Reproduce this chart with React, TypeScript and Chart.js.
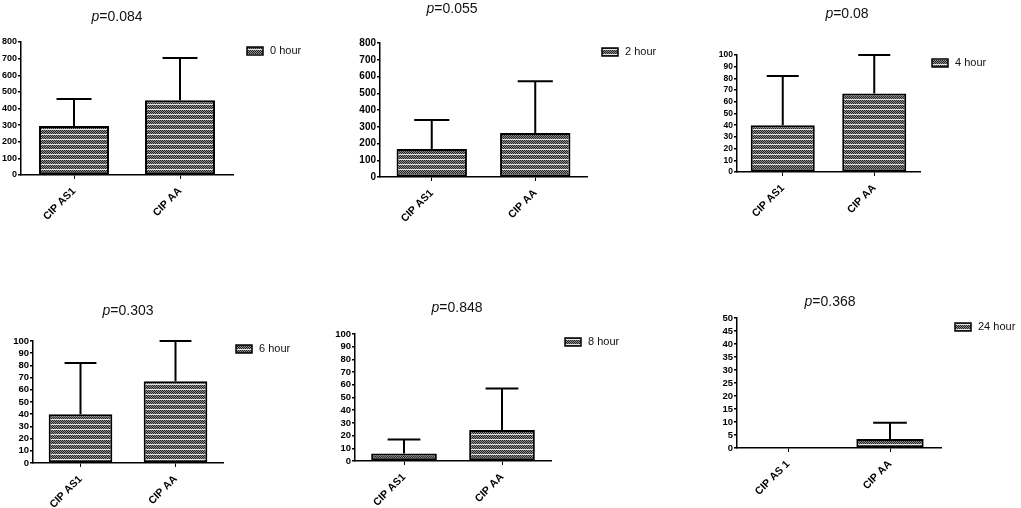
import React, { useEffect, useRef } from "react";
import { Chart, registerables } from "chart.js";

Chart.register(...registerables);

// ---- data ----
const hourLabels = ["0 hour", "2 hour", "4 hour", "6 hour", "8 hour", "24 hour"];
const pValues = ["0.084", "0.055", "0.08", "0.303", "0.848", "0.368"];
const categories = ["CIP AS1", "CIP AA"];
const categories24 = ["CIP AS 1", "CIP AA"];

const means0h = [295, 450];
const sd0h = [162, 254];
const means2h = [167, 263];
const sd2h = [173, 308];
const means4h = [40, 67];
const sd4h = [42, 33];
const means6h = [40, 67];
const sd6h = [42, 33];
const means8h = [6, 24.5];
const sd8h = [11, 32.5];
const means24h = [0, 3.5];
const sd24h = [0, 6.2];

const yMaxes = [800, 800, 100, 100, 100, 50];
const ySteps = [100, 100, 10, 10, 10, 5];

const allMeans = [means0h, means2h, means4h, means6h, means8h, means24h];
const allSd = [sd0h, sd2h, sd4h, sd6h, sd8h, sd24h];
const allCats = [categories, categories, categories, categories, categories, categories24];

// ---- layout (page pixels) ----
const layout = [
  { axisX: 21, rightX: 233, topY: 42, bottomY: 175, titleX: 117, titleY: 16, legX: 247, legY: 51, yFont: 9, bar: 0.66 },
  { axisX: 380, rightX: 587, topY: 43, bottomY: 177, titleX: 452, titleY: 8, legX: 602, legY: 52, yFont: 10, bar: 0.68 },
  { axisX: 737, rightX: 920, topY: 55, bottomY: 172, titleX: 847, titleY: 13, legX: 932, legY: 63, yFont: 8.5, bar: 0.7 },
  { axisX: 33, rightX: 223, topY: 341, bottomY: 463, titleX: 128, titleY: 310, legX: 236, legY: 349, yFont: 9.5, bar: 0.67 },
  { axisX: 355, rightX: 551, topY: 334, bottomY: 461, titleX: 457, titleY: 307, legX: 565, legY: 342, yFont: 9.5, bar: 0.67 },
  { axisX: 737, rightX: 941, topY: 318, bottomY: 448, titleX: 830, titleY: 301, legX: 955, legY: 327, yFont: 9.5, bar: 0.66 },
];

const W = 1021;
const H = 508;
const SHIFT = 60;
const CW = W + SHIFT;
const Y_AXIS_W = 40;
const X_AXIS_H = 55;
const FONT = "'Liberation Sans', Arial, sans-serif";

function makePattern(): CanvasPattern | string {
  const c = document.createElement("canvas");
  c.width = 2;
  c.height = 5;
  const g = c.getContext("2d");
  if (!g) return "#777";
  for (let y = 0; y < 5; y++) {
    for (let x = 0; x < 2; x++) {
      g.fillStyle = y === 4 ? "#e6e6e6" : (x + y) % 2 === 0 ? "#262626" : "#8c8c8c";
      g.fillRect(x, y, 1, 1);
    }
  }
  const p = g.createPattern(c, "repeat");
  return p || "#777";
}

function Panel({ idx }: { idx: number }) {
  const ref = useRef<HTMLCanvasElement | null>(null);
  const L = layout[idx];
  useEffect(() => {
    if (!ref.current) return;
    const pattern = makePattern();
    const sds = allSd[idx];
    const errorBars = {
      id: "errorBars" + idx,
      afterDatasetsDraw(chart: any) {
        const ctx = chart.ctx;
        const meta = chart.getDatasetMeta(0);
        const ys = chart.scales.y;
        const data = chart.data.datasets[0].data as number[];
        ctx.save();
        ctx.strokeStyle = "#000";
        ctx.lineWidth = 2;
        meta.data.forEach((el: any, i: number) => {
          const sd = sds[i];
          if (!sd) return;
          const top = ys.getPixelForValue(data[i] + sd);
          const base = ys.getPixelForValue(data[i]);
          const half = el.width * 0.25;
          ctx.beginPath();
          ctx.moveTo(el.x, base);
          ctx.lineTo(el.x, top);
          ctx.moveTo(el.x - half, top);
          ctx.lineTo(el.x + half, top);
          ctx.stroke();
        });
        ctx.restore();
      },
    };
    const legendPlugin = {
      id: "legendBox" + idx,
      afterDraw(chart: any) {
        const ctx = chart.ctx;
        const label = chart.data.datasets[0].label as string;
        const bw = 16;
        const bh = 8;
        const lx = L.legX + SHIFT;
        ctx.save();
        ctx.fillStyle = pattern as any;
        ctx.fillRect(lx, L.legY - bh / 2, bw, bh);
        ctx.strokeStyle = "#000";
        ctx.lineWidth = 1.5;
        ctx.strokeRect(lx, L.legY - bh / 2, bw, bh);
        ctx.fillStyle = "#111";
        ctx.font = "11px " + FONT;
        ctx.textBaseline = "middle";
        ctx.textAlign = "left";
        ctx.fillText(label, lx + bw + 7, L.legY);
        ctx.restore();
      },
    };
    const chart = new Chart(ref.current, {
      type: "bar",
      data: {
        labels: allCats[idx],
        datasets: [
          {
            label: hourLabels[idx],
            data: allMeans[idx],
            backgroundColor: pattern as any,
            borderColor: "#000",
            borderWidth: 2,
            borderSkipped: false,
            barPercentage: L.bar,
            categoryPercentage: 1,
          },
        ],
      },
      options: {
        animation: false,
        responsive: false,
        devicePixelRatio: 1,
        layout: {
          padding: {
            left: L.axisX + SHIFT - Y_AXIS_W,
            top: L.topY,
            right: W - L.rightX,
            bottom: H - L.bottomY - X_AXIS_H,
          },
        },
        plugins: {
          legend: { display: false },
          title: { display: false },
          tooltip: { enabled: false },
        },
        scales: {
          x: {
            afterFit(scale: any) {
              scale.height = X_AXIS_H;
            },
            grid: {
              offset: false,
              drawOnChartArea: false,
              drawTicks: true,
              tickLength: 4,
              color: "#000",
              lineWidth: 1,
            },
            border: { display: true, color: "#000", width: 1.5 },
            ticks: {
              minRotation: 45,
              maxRotation: 45,
              autoSkip: false,
              color: "#000",
              padding: 6,
              font: { family: FONT, size: 10.5, weight: "bold" },
            },
          },
          y: {
            min: 0,
            max: yMaxes[idx],
            afterFit(scale: any) {
              scale.width = Y_AXIS_W;
            },
            grid: {
              drawOnChartArea: false,
              drawTicks: true,
              tickLength: 3,
              color: "#000",
              lineWidth: 1.5,
            },
            border: { display: true, color: "#000", width: 1.5 },
            ticks: {
              stepSize: ySteps[idx],
              autoSkip: false,
              color: "#000",
              padding: 1,
              font: { family: FONT, size: L.yFont, weight: "bold" },
            },
          },
        },
      },
      plugins: [errorBars, legendPlugin],
    } as any);
    return () => chart.destroy();
  }, [idx]);
  return (
    <>
      <canvas
        ref={ref}
        width={CW}
        height={H}
        style={{ position: "absolute", left: -SHIFT, top: 0, width: CW, height: H }}
      />
      <div
        style={{
          position: "absolute",
          left: L.titleX,
          top: L.titleY,
          transform: "translate(-50%, -50%)",
          fontFamily: FONT,
          fontSize: 14,
          color: "#111",
          whiteSpace: "nowrap",
          lineHeight: 1,
        }}
      >
        <i>p</i>={pValues[idx]}
      </div>
    </>
  );
}

export default function App() {
  return (
    <div
      style={{
        position: "absolute",
        left: 0,
        top: 0,
        width: W,
        height: H,
        background: "#fff",
        overflow: "hidden",
      }}
    >
      {layout.map((_, i) => (
        <Panel key={i} idx={i} />
      ))}
    </div>
  );
}
